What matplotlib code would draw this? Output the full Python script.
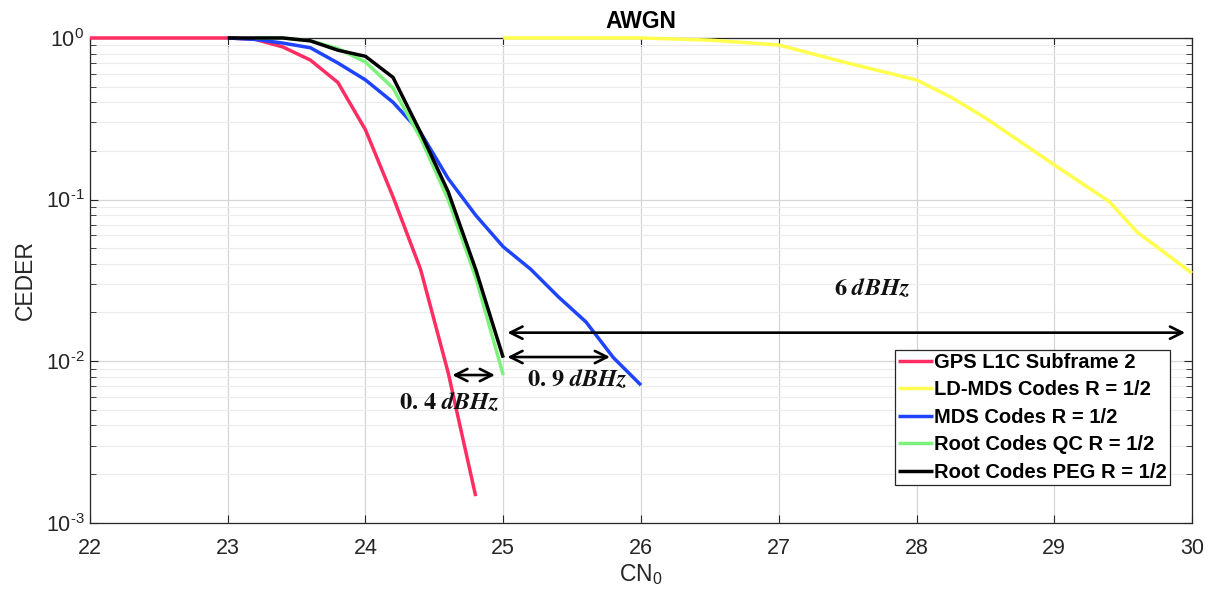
import matplotlib
matplotlib.use("Agg")
import matplotlib.pyplot as plt
from matplotlib.ticker import LogLocator, NullFormatter, FuncFormatter
import numpy as np

plt.rcParams['font.family'] = ['Liberation Sans', 'DejaVu Sans']
plt.rcParams['mathtext.default'] = 'regular'

# ---- data ----
gps_x = [22, 23, 23.2, 23.4, 23.6, 23.8, 24.0, 24.2, 24.4, 24.6, 24.8]
gps_y = [1.0, 1.0, 0.98, 0.88, 0.73, 0.53, 0.27, 0.104, 0.037, 0.0085, 0.00146]

ldmds_x = [25, 26, 26.5, 27, 27.5, 28, 28.25, 28.5, 29, 29.4, 29.6, 30]
ldmds_y = [1.0, 1.0, 0.97, 0.905, 0.70, 0.55, 0.43, 0.32, 0.164, 0.097, 0.063, 0.035]

mds_x = [23, 23.2, 23.4, 23.6, 23.8, 24.0, 24.2, 24.4, 24.6, 24.8, 25.0, 25.2, 25.4, 25.6, 25.8, 26.0]
mds_y = [1.0, 0.98, 0.93, 0.87, 0.70, 0.55, 0.40, 0.26, 0.135, 0.08, 0.051, 0.037, 0.025, 0.0175, 0.0105, 0.0071]

qc_x = [23.2, 23.4, 23.6, 23.8, 24.0, 24.2, 24.4, 24.6, 24.8, 25.0]
qc_y = [1.0, 1.0, 0.96, 0.86, 0.71, 0.49, 0.24, 0.10, 0.033, 0.0082]

peg_x = [23, 23.2, 23.4, 23.6, 23.8, 24.0, 24.2, 24.4, 24.6, 24.8, 25.0]
peg_y = [1.0, 1.0, 1.0, 0.96, 0.84, 0.77, 0.57, 0.26, 0.112, 0.037, 0.0105]

labels = ['GPS L1C Subframe 2', 'LD-MDS Codes R = 1/2', 'MDS Codes R = 1/2',
          'Root Codes QC R = 1/2', 'Root Codes PEG R = 1/2']
colors = ['#FF2D62', '#FFFF4D', '#1F44FF', '#7CF27C', '#000000']

fig = plt.figure(figsize=(12.14, 5.99), dpi=100)
ax = fig.add_axes([0.0741, 0.1274, 0.9078, 0.8092])

series = [(gps_x, gps_y), (ldmds_x, ldmds_y), (mds_x, mds_y), (qc_x, qc_y), (peg_x, peg_y)]
for (xs, ys), lab, c in zip(series, labels, colors):
    ax.plot(xs, ys, color=c, lw=2.5, label=lab, solid_capstyle='butt', clip_on=False, zorder=3)

ax.set_yscale('log')
ax.set_xlim(22, 30)
ax.set_ylim(1e-3, 1)
ax.set_xticks(range(22, 31))
ax.yaxis.set_major_locator(LogLocator(base=10, numticks=10))
ax.yaxis.set_minor_locator(LogLocator(base=10, subs=range(2, 10), numticks=10))
ax.yaxis.set_minor_formatter(NullFormatter())
ax.yaxis.set_major_formatter(FuncFormatter(
    lambda v, p: r'$10^{%s}$' % str(int(round(np.log10(v)))).replace('-', '\u2010') if v > 0 else ''))
ax.tick_params(which='both', direction='in', top=True, right=True, labelsize=15.5, colors='#262626')
ax.tick_params(axis='x', pad=11)
ax.tick_params(axis='y', pad=4)
ax.tick_params(which='major', length=6)
ax.tick_params(which='minor', length=4)
ax.grid(True, which='major', color='#d6d6d6', lw=0.9)
ax.grid(True, which='minor', axis='y', color='#ececec', lw=0.8)
ax.set_axisbelow(True)
for s in ax.spines.values():
    s.set_color('#262626')
    s.set_linewidth(0.9)
    s.set_zorder(2.5)

ax.set_title('AWGN', fontsize=16.5, fontweight='bold', pad=7)
ax.set_xlabel('CN$_0$', fontsize=16.5, color='#262626', labelpad=2)
ax.set_ylabel('CEDER', fontsize=16.5, color='#262626', labelpad=6)

arrow_kw = dict(arrowstyle='<->', color='black', lw=1.9, mutation_scale=22, shrinkA=0, shrinkB=0)
ax.annotate('', xy=(25.03, 0.015), xytext=(29.95, 0.015), arrowprops=arrow_kw)
ax.annotate('', xy=(25.03, 0.0106), xytext=(25.775, 0.0106), arrowprops=arrow_kw)
ax.annotate('', xy=(24.63, 0.0082), xytext=(24.94, 0.0082), arrowprops=arrow_kw)

tkw = dict(fontsize=17.5, ha='center', va='center', color='#111111', math_fontfamily='stix')
ax.text(27.68, 0.028, r'$\mathbf{6}\ \mathbfit{dBHz}$', **tkw)
ax.text(25.535, 0.0077, r'$\mathbf{0.\,9}\ \mathbfit{dBHz}$', **tkw)
ax.text(24.61, 0.0055, r'$\mathbf{0.\,4}\ \mathbfit{dBHz}$', **tkw)

leg = ax.legend(loc='lower right', bbox_to_anchor=(0.980, 0.078),
                prop={'weight': 'bold', 'size': 14.5}, handlelength=1.75, handletextpad=0.05,
                labelspacing=0.42, borderpad=0.15, borderaxespad=0, fancybox=False, framealpha=1,
                edgecolor='#262626')
leg.get_frame().set_linewidth(0.9)
leg.set_zorder(5)

fig.savefig('out.png', dpi=100)
